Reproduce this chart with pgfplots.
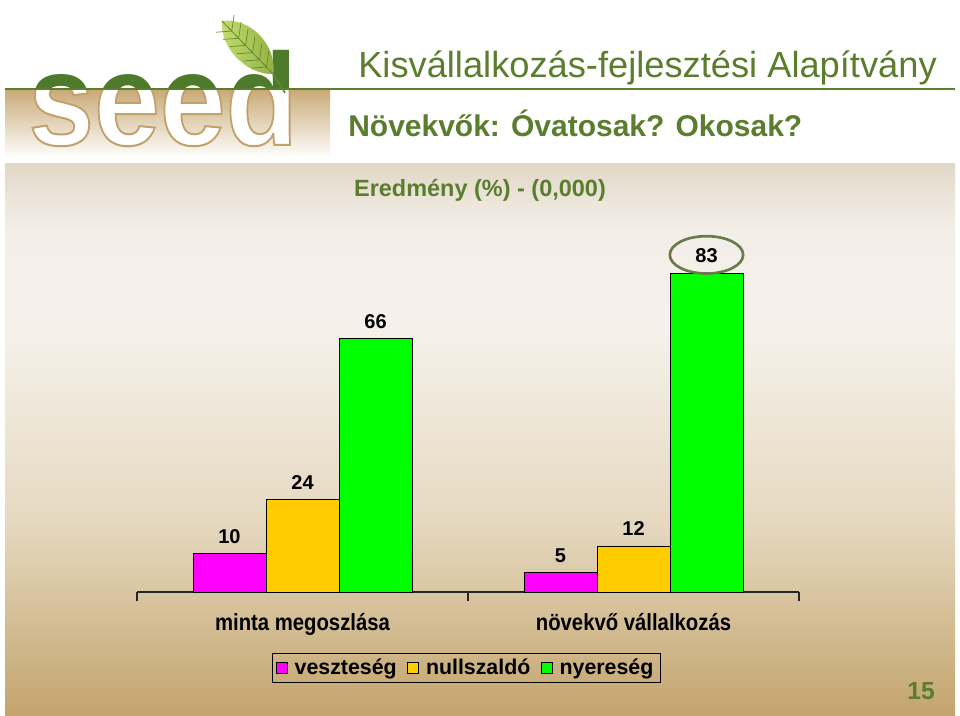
\documentclass[border=0pt]{standalone}
\usepackage{pgfplots}
\pgfplotsset{compat=1.18}
\usepackage{graphicx}
\usepackage{fontspec}
\setmainfont{Liberation Sans}
\usetikzlibrary{shapes.geometric}
\definecolor{hgreen}{HTML}{5A7D2E}
\definecolor{seedgreen}{HTML}{4E7A2B}
\definecolor{leafA}{HTML}{C6DC70}
\definecolor{leafB}{HTML}{8DB040}
\definecolor{vein}{HTML}{5F8A2C}
\definecolor{tanB}{HTML}{C9AB78}
\definecolor{barM}{HTML}{FF00FF}
\definecolor{barY}{HTML}{FFCC00}
\definecolor{barG}{HTML}{00FF00}
\definecolor{ell}{HTML}{6B7A4C}
\definecolor{bgA}{HTML}{E2D8C7}
\definecolor{bgB}{HTML}{F3EFE8}
\definecolor{bgC}{HTML}{F5F1EA}
\definecolor{bgD}{HTML}{E6D9C1}
\definecolor{bgE}{HTML}{C3A46C}
\newcommand\seedtext{\scalebox{0.91}[1]{\bfseries\fontsize{97.5}{100}\selectfont seed}}
\pgfplotsset{sq legend/.style={legend image code/.code={\draw[##1,draw=black,line width=0.5pt] (0pt,-4pt) rectangle (8pt,4pt);}}}
\begin{document}
\begin{tikzpicture}[x=0.75pt,y=0.75pt]
\useasboundingbox (0,0) rectangle (960,716);
\fill[white] (0,0) rectangle (960,716);
% chart background
\shade[top color=bgA,bottom color=bgB] (5,716-230) rectangle (955,716-164);
\shade[top color=bgB,bottom color=bgC] (5,716-330) rectangle (955,716-229.5);
\shade[top color=bgC,bottom color=bgD] (5,716-520) rectangle (955,716-329.5);
\shade[top color=bgD,bottom color=bgE] (5,0) rectangle (955,716-519.5);
% logo block
\shade[top color=tanB,bottom color=white] (5,716-158) rectangle (330,716-90);
\draw[hgreen,line width=1.5pt] (5,716-89) -- (955,716-89);
% seed letters
\begin{scope}
\clip (0,716-88) rectangle (340,716);
\node[anchor=base west,inner sep=0,text=seedgreen] at (28,716-145) {\seedtext};
\end{scope}
\begin{scope}
\clip (0,0) rectangle (340,716-90.5);
\node[anchor=base west,inner sep=0,text=white] at (28,716-145) {\special{pdf:literal direct 0.76 0.63 0.42 RG 1.5 w 2 Tr}\seedtext\special{pdf:literal direct 0 Tr}};
\end{scope}
% leaf
\begin{scope}[shift={(222,716-21)},rotate=-46]
\shade[left color=leafA,right color=leafB] (0,0) .. controls (16,22) and (54,24) .. (74,0) .. controls (54,-21) and (16,-19) .. (0,0);
\draw[vein,line width=0.6pt] (0,0) -- (74,0);
\foreach \i in {14,24,34,44,54,64}{
\draw[vein,line width=0.5pt] (\i,0) -- (\i-10,13);
\draw[vein,line width=0.5pt] (\i,0) -- (\i-10,-12);}
\end{scope}
\draw[vein,line width=1.2pt] (273,716-75) .. controls (277,716-80) and (281,716-86) .. (285,716-93);
% titles
\node[anchor=base west,inner sep=0,text=hgreen,font=\fontsize{27.2}{30}\selectfont] at (358,716-78) {Kisvállalkozás-fejlesztési Alapítvány};
\node[anchor=base west,inner sep=0,text=hgreen,font=\bfseries\fontsize{22.5}{26}\selectfont] at (348,716-137) {Növekvők: Óvatosak? Okosak?};
\node[text=hgreen,font=\bfseries\fontsize{17.6}{21}\selectfont] at (480,716-190) {Eredmény (\%) - (0,000)};
\node[text=hgreen,font=\bfseries\fontsize{18.5}{22}\selectfont] at (921,716-691) {15};
\coordinate (O) at (137,124);
\begin{axis}[at={(O)},anchor=south west,
scale only axis,width=496.5pt,height=288pt,
xmin=-0.5,xmax=1.5,ymin=0,ymax=100,
axis x line=bottom,axis y line=none,
axis line style={-,black!85,line width=0.8pt},
ybar=0pt,bar width=54.75pt,
xtick={0,1},
xticklabels={\scalebox{0.87}[1]{minta megoszlása},\scalebox{0.87}[1]{növekvő vállalkozás}},
major tick length=0pt,
extra x ticks={-0.5,0.5,1.5},extra x tick labels={},
extra x tick style={major tick length=7pt,tick align=outside,tick style={black!85,line width=0.8pt}},
xticklabel style={font=\bfseries\fontsize{17.5}{20}\selectfont,yshift=-12.5pt},
nodes near coords,
every node near coord/.append style={font=\bfseries\fontsize{15}{18}\selectfont,yshift=4pt,black},
/pgf/number format/assume math mode=true,
legend style={at={(0.497,-0.197)},anchor=center,draw=black,fill=none,
  font=\bfseries\fontsize{16}{19}\selectfont,legend columns=3,
  /tikz/every odd column/.append style={column sep=3.5pt},
  /tikz/every even column/.append style={column sep=6pt}},
clip=false]
\addplot[fill=barM,draw=black,line width=0.5pt,sq legend] coordinates {(0,10) (1,5)};
\addplot[fill=barY,draw=black,line width=0.5pt,sq legend] coordinates {(0,24) (1,12)};
\addplot[fill=barG,draw=black,line width=0.5pt,sq legend] coordinates {(0,66) (1,83)};
\legend{veszteség,nullszaldó,nyereség}
\node[draw=ell,line width=2pt,ellipse,minimum width=55pt,minimum height=28pt] at (axis cs:1.2205,87.8) {};
\end{axis}
\end{tikzpicture}
\end{document}
